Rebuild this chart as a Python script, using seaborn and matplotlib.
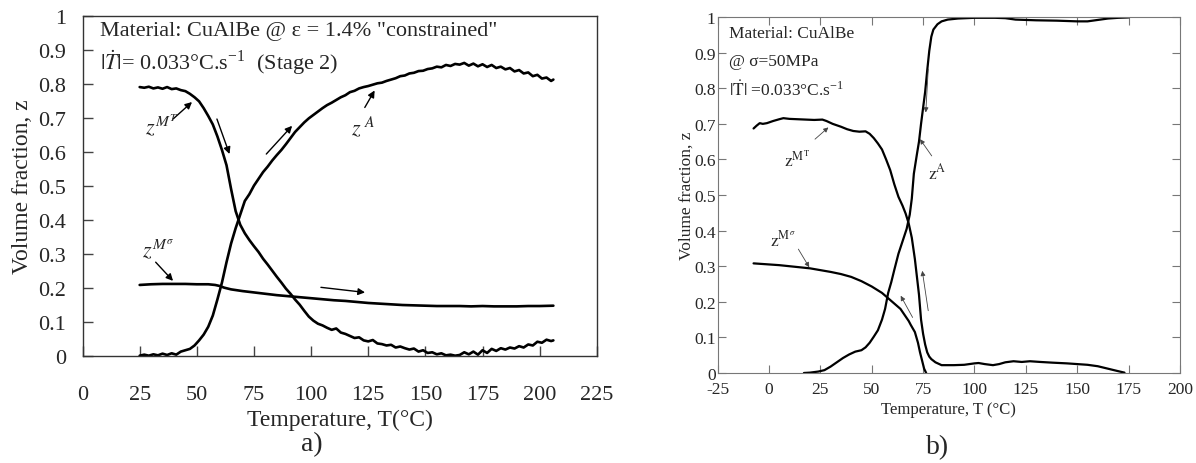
import numpy as np
import pandas as pd
import seaborn as sns
import matplotlib
matplotlib.use("Agg")
import matplotlib.pyplot as plt

# ---- panel a) data (CuAlBe, eps = 1.4 % constrained) ----
a_mt_T = [25, 27, 29, 31, 33, 35, 37, 39, 41, 43, 45, 47, 49, 51, 53, 55, 57, 59, 61, 63,
          65, 67, 69, 71, 73, 75, 77, 79, 81, 83, 85, 87, 89, 91, 93, 95, 97, 99, 101, 103,
          105, 107, 109, 111, 113, 115, 117, 119, 121, 123, 125, 127, 129, 131, 133, 135, 137, 139, 141, 143,
          145, 147, 149, 151, 153, 155, 157, 159, 161, 163, 165, 167, 169, 171, 173, 175, 177, 179, 181, 183,
          185, 187, 189, 191, 193, 195, 197, 199, 201, 203, 205, 206]
a_mt_z = [.790, .788, .791, .786, .789, .785, .790, .784, .786, .781, .778, .770, .760, .748, .728, .705, .680, .645, .605, .560,
          .490, .425, .385, .360, .340, .322, .305, .285, .268, .250, .232, .215, .197, .182, .165, .150, .132, .115, .103, .094,
          .089, .082, .076, .080, .068, .064, .058, .052, .054, .045, .042, .046, .036, .034, .030, .032, .024, .027, .022, .018,
          .021, .012, .016, .008, .010, .004, .007, .001, .003, .000, .002, .010, .004, .012, .003, .016, .008, .020, .014, .022,
          .018, .024, .021, .028, .024, .033, .030, .041, .038, .047, .043, .045]

a_a_T = [25, 27, 29, 31, 33, 35, 37, 39, 41, 43, 45, 47, 49, 51, 53, 55, 57, 59, 61, 63,
         65, 67, 69, 71, 73, 75, 77, 79, 81, 83, 85, 87, 89, 91, 93, 95, 97, 99, 101, 103,
         105, 107, 109, 111, 113, 115, 117, 119, 121, 123, 125, 127, 129, 131, 133, 135, 137, 139, 141, 143,
         145, 147, 149, 151, 153, 155, 157, 159, 161, 163, 165, 167, 169, 171, 173, 175, 177, 179, 181, 183,
         185, 187, 189, 191, 193, 195, 197, 199, 201, 203, 205, 206]
a_a_z = [.000, .003, .000, .004, .001, .006, .002, .007, .003, .012, .016, .020, .030, .045, .062, .085, .118, .165, .215, .275,
         .330, .375, .415, .455, .475, .500, .520, .540, .556, .574, .590, .605, .622, .640, .658, .672, .686, .698, .708, .718,
         .728, .737, .744, .752, .760, .766, .775, .779, .786, .790, .793, .797, .801, .803, .808, .812, .816, .822, .824, .830,
         .832, .837, .838, .843, .845, .850, .848, .855, .852, .858, .856, .861, .853, .859, .851, .857, .849, .855, .846, .850,
         .842, .846, .836, .840, .830, .833, .822, .826, .815, .818, .808, .812]

a_ms_T = [25, 30, 35, 40, 45, 50, 55, 58, 60, 62, 65, 70, 75, 80, 85, 90, 95, 100, 105, 110,
          115, 120, 125, 130, 135, 140, 145, 150, 155, 160, 165, 170, 175, 180, 185, 190, 195, 200, 206]
a_ms_z = [.208, .210, .211, .211, .211, .210, .210, .208, .205, .200, .195, .190, .186, .182, .178, .175, .172, .169, .166, .163,
          .161, .158, .155, .153, .151, .149, .148, .147, .146, .146, .146, .145, .146, .145, .145, .145, .146, .146, .147]

# ---- panel b) data (CuAlBe, sigma = 50 MPa) ----
b_mt_T = [-7.5, -6, -4.5, -3, -1, 2, 5, 7, 10, 14, 18, 22, 26, 28, 31, 35, 38, 41, 44, 47,
          49, 51, 53, 55, 57, 59, 61, 63, 65, 66.5, 68, 69.5, 71, 72, 73, 74, 75, 76, 77, 78,
          79, 81, 84, 90, 95, 100, 102, 105, 109, 112, 115, 119, 123, 127, 132, 138, 145, 150, 155, 160,
          165, 170, 173]
b_mt_z = [.687, .695, .702, .700, .702, .708, .713, .716, .714, .713, .712, .711, .712, .708, .700, .692, .685, .680, .678, .679,
          .672, .660, .645, .628, .600, .570, .530, .495, .470, .448, .420, .380, .320, .270, .220, .150, .110, .080, .058, .046,
          .039, .030, .022, .022, .023, .027, .028, .025, .022, .025, .030, .033, .031, .033, .031, .029, .027, .025, .023, .019,
          .012, .005, .001]

b_a_T = [17, 20, 24, 27, 30, 33, 36, 39, 42, 45, 47, 49, 51, 53, 55, 56.5, 58, 59.5, 61, 63,
         65, 67, 68.5, 69.5, 70.5, 72, 73, 74, 75, 76, 77, 78, 79, 80, 82, 84, 87, 92, 100, 110,
         115, 120, 130, 140, 150, 155, 160, 165, 170, 175]
b_a_z = [.000, .001, .004, .008, .018, .030, .042, .052, .060, .064, .072, .085, .102, .120, .150, .180, .225, .255, .290, .335,
         .370, .405, .445, .490, .560, .615, .650, .700, .745, .790, .850, .905, .945, .965, .980, .988, .993, .996, .998, .998,
         .997, .993, .991, .990, .988, .988, .992, .996, .998, .999]

b_ms_T = [-7.5, 0, 5, 10, 15, 20, 25, 30, 35, 40, 45, 50, 55, 58, 61, 64, 66, 68, 69, 71,
          72.5, 73.5, 74.5, 75.5, 76.5]
b_ms_z = [.308, .305, .303, .300, .297, .294, .289, .284, .278, .270, .258, .243, .225, .210, .195, .180, .163, .146, .135, .115,
          .085, .058, .035, .012, .000]

a_xticks = [0, 25, 50, 75, 100, 125, 150, 175, 200, 225]
b_xticks = [-25, 0, 25, 50, 75, 100, 125, 150, 175, 200]
yticks = [0, .1, .2, .3, .4, .5, .6, .7, .8, .9, 1]
ytick_labels = ["0", "0.1", "0.2", "0.3", "0.4", "0.5", "0.6", "0.7", "0.8", "0.9", "1"]

sns.set_style("ticks")
plt.rcParams['font.family'] = ['Liberation Serif', 'DejaVu Serif']
plt.rcParams['mathtext.fontset'] = 'stix'

fig = plt.figure(figsize=(11.96, 4.64), dpi=100)
ax1 = fig.add_axes([0.069, 0.2313, 0.430, 0.7328])
ax2 = fig.add_axes([0.600, 0.194, 0.3866, 0.767])

# panel a
for T, z in [(a_mt_T, a_mt_z), (a_a_T, a_a_z), (a_ms_T, a_ms_z)]:
    df = pd.DataFrame({'T': T, 'z': z})
    sns.lineplot(data=df, x='T', y='z', ax=ax1, color='black', lw=1.9, sort=False, estimator=None)

ax1.set_xlim(0, 225)
ax1.set_ylim(0, 1)
ax1.set_xticks(a_xticks)
ax1.set_xticklabels([str(t) for t in a_xticks])
ax1.set_yticks(yticks)
ax1.set_yticklabels(ytick_labels)
ax1.tick_params(axis='x', direction='in', length=7, width=1, color='#444', pad=21, labelsize=16)
ax1.tick_params(axis='y', direction='in', length=7, width=1, color='#444', pad=12, labelsize=16)
for s in ax1.spines.values():
    s.set_color('#333')
    s.set_linewidth(1.0)
ax1.set_xlabel('Temperature, T(°C)', fontsize=17)
ax1.set_ylabel('Volume fraction, z', fontsize=17)
ax1.xaxis.set_label_coords(0.5, -0.186)
ax1.xaxis.label.set_va('center')
ax1.yaxis.set_label_coords(-0.116, 0.5)
ax1.yaxis.label.set_va('center')

ax1.text(7.5, 0.955, 'Material: CuAlBe @ ε = 1.4% "constrained"', fontsize=16, va='center')
ax1.text(7.5, 0.865, r'$|\dot{T}|$= 0.033°C.s$^{\mathregular{-1}}$  (Stage 2)', fontsize=16, va='center')

arr_a = dict(arrowstyle='-|>', color='black', lw=1.0, mutation_scale=10, shrinkA=0, shrinkB=0)
ax1.annotate('', xy=(47.9, 0.746), xytext=(39.6, 0.696), arrowprops=arr_a)
ax1.text(34.5, 0.675, r'$z^{M^T}$', fontsize=16, ha='center', va='center')
ax1.annotate('', xy=(64.3, 0.593), xytext=(58.8, 0.696), arrowprops=arr_a)
ax1.annotate('', xy=(91.7, 0.676), xytext=(80.4, 0.593), arrowprops=arr_a)
ax1.annotate('', xy=(127.8, 0.78), xytext=(123.5, 0.73), arrowprops=arr_a)
ax1.text(123, 0.675, r'$z^{\ A}$', fontsize=16, ha='center', va='center')
ax1.annotate('', xy=(39.6, 0.22), xytext=(32, 0.275), arrowprops=arr_a)
ax1.text(33, 0.31, r'$z^{M^\sigma}$', fontsize=16, ha='center', va='center')
ax1.annotate('', xy=(123.6, 0.186), xytext=(104.3, 0.201), arrowprops=arr_a)

# panel b
for T, z in [(b_mt_T, b_mt_z), (b_a_T, b_a_z), (b_ms_T, b_ms_z)]:
    df = pd.DataFrame({'T': T, 'z': z})
    sns.lineplot(data=df, x='T', y='z', ax=ax2, color='black', lw=1.6, sort=False, estimator=None)

ax2.set_xlim(-25, 200)
ax2.set_ylim(0, 1)
ax2.set_xticks(b_xticks)
ax2.set_xticklabels([str(t) for t in b_xticks])
ax2.set_yticks(yticks)
ax2.set_yticklabels(ytick_labels)
ax2.tick_params(axis='both', direction='in', length=6, width=0.8, color='#777',
                top=True, right=True, labelsize=12.5)
ax2.tick_params(axis='x', pad=6)
ax2.tick_params(axis='y', pad=1.5)
for s in ax2.spines.values():
    s.set_color('#777')
    s.set_linewidth(0.8)
ax2.set_xlabel('Temperature, T (°C)', fontsize=12)
ax2.set_ylabel('Volume fraction, z', fontsize=12.5)
ax2.xaxis.set_label_coords(0.5, -0.101)
ax2.xaxis.label.set_va('center')
ax2.yaxis.set_label_coords(-0.066, 0.5)
ax2.yaxis.label.set_va('center')

ax2.text(-19.5, 0.955, 'Material: CuAlBe', fontsize=12.5, va='center')
ax2.text(-19.5, 0.878, '@ σ=50MPa', fontsize=12.5, va='center')
ax2.text(-19.5, 0.797, r'$|\dot{\mathrm{T}}|$ =0.033°C.s$^{\mathregular{-1}}$', fontsize=12.5, va='center')

arr_b = dict(arrowstyle='-|>', color='#444', lw=0.6, mutation_scale=7, shrinkA=0, shrinkB=0)
ax2.annotate('', xy=(28.9, 0.69), xytext=(22.4, 0.657), arrowprops=arr_b)
ax2.text(13.5, 0.60, r'$\mathrm{z}^{\mathrm{M}^{\mathrm{T}}}$', fontsize=12.5, ha='center', va='center')
ax2.annotate('', xy=(73.5, 0.657), xytext=(79.2, 0.61), arrowprops=arr_b)
ax2.text(82, 0.565, r'$\mathrm{z}^{\mathrm{A}}$', fontsize=12.5, ha='center', va='center')
ax2.annotate('', xy=(76.3, 0.732), xytext=(77.5, 0.854), arrowprops=arr_b)
ax2.annotate('', xy=(19.6, 0.297), xytext=(14.3, 0.348), arrowprops=arr_b)
ax2.text(6.5, 0.375, r'$\mathrm{z}^{\mathrm{M}^{\sigma}}$', fontsize=12.5, ha='center', va='center')
ax2.annotate('', xy=(64.1, 0.217), xytext=(69.9, 0.156), arrowprops=arr_b)
ax2.annotate('', xy=(74.6, 0.287), xytext=(77.5, 0.175), arrowprops=arr_b)

fig.text(312 / 1196, 1 - 445 / 464, 'a)', fontsize=20, ha='center', va='center')
fig.text(938 / 1196, 1 - 448 / 464, 'b)', fontsize=20, ha='center', va='center')

fig.savefig('out.png', dpi=100)
